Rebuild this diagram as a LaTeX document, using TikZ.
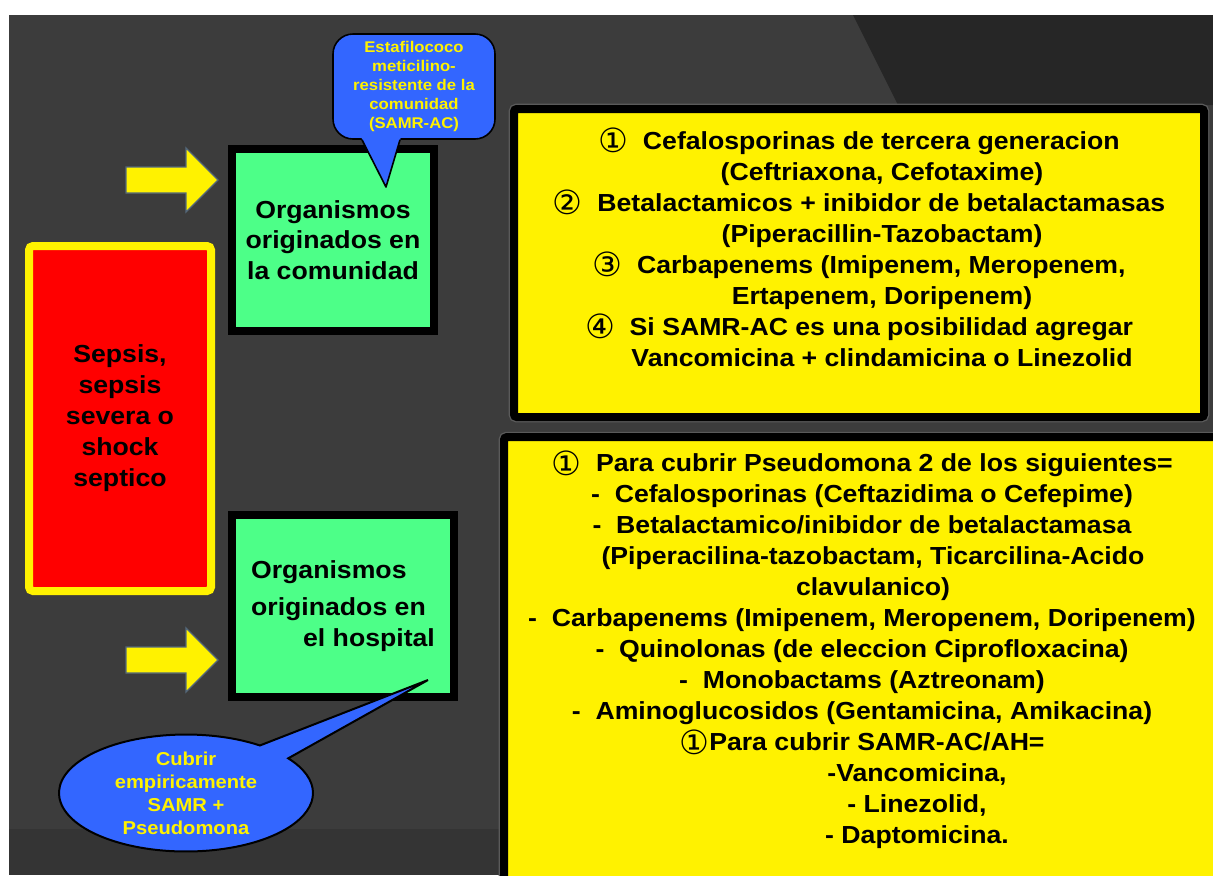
\documentclass[tikz,border=0pt]{standalone}
\usepackage{fontspec}
\setmainfont[FakeStretch=1.08]{Liberation Sans}
\newfontfamily\symfont{DejaVu Sans}
\usepackage{tikz}
\usetikzlibrary{calc, positioning, shapes.callouts}
\definecolor{bgdark}{RGB}{60,60,60}
\definecolor{bgpanel}{RGB}{38,38,38}
\definecolor{bgfoot}{RGB}{52,52,52}
\definecolor{boxgreen}{RGB}{77,255,136}
\definecolor{noteblue}{RGB}{51,102,255}
\definecolor{arrowedge}{RGB}{84,104,122}
\definecolor{halo}{RGB}{90,90,90}
\newcommand{\circnum}[1]{\raisebox{-2.5pt}[0pt][0pt]{\symfont\mdseries\fontsize{25}{23.25}\selectfont #1}}

\begin{document}
\begin{tikzpicture}[x=0.75pt, y=-0.75pt,
    orgbox/.style={draw=black, line width=6pt, fill=boxgreen, inner sep=0pt,
      font={\fontsize{18.5}{22.9}\selectfont\bfseries}},
    listbox/.style={draw=black, line width=6pt, fill=yellow, rounded corners=2pt,
      preaction={draw=halo, line width=8pt}},
    listtext/.style={align=center, inner sep=0pt,
      font={\fontsize{18.5}{23.25}\selectfont\bfseries}},
    notetext/.style={text=yellow, align=center, inner sep=0pt},
    arrowbody/.style={fill=yellow, draw=arrowedge, line width=1pt},
    yarrow/.pic={\draw[arrowbody] (-92,-13) -- (-32,-13) -- (-32,-32) -- (0,0)
      -- (-32,32) -- (-32,13) -- (-92,13) -- cycle;}]
  \useasboundingbox (0,0) rectangle (1213,875);
  \clip (0,0) rectangle (1213,875);
  % Background
  \fill[white] (0,0) rectangle (1213,875);
  \fill[bgdark] (9,15) rectangle (1213,875);
  \fill[bgpanel] (853,15) -- (1213,15) -- (1213,105) -- (898,105) -- cycle;
  \fill[bgfoot] (9,829) rectangle (1213,875);

  % Sepsis
  \node[draw=yellow, line width=6pt, fill=red, rounded corners=3pt, inner sep=0pt,
    minimum width=136.5pt, minimum height=258.75pt, align=center,
    font={\fontsize{18.5}{23.25}\selectfont\bfseries}] (sepsis) at (120,418.5)
    {Sepsis,\\sepsis\\severa o\\shock\\septico};

  % Organisms
  \node[orgbox, minimum width=151.5pt, minimum height=136.5pt, align=center]
    (orgCom) at (333,240) {Organismos\\originados en\\la comunidad};
  \node[orgbox, minimum width=166.5pt, minimum height=136.5pt, align=left]
    (orgHosp) at (343,606) {Organismos\\[5pt]originados en\\\hspace*{39pt}el hospital};
  \pic at ($(orgCom.west)+(-10,-60)$) {yarrow};
  \pic at ($(orgHosp.west)+(-10,54)$) {yarrow};

  % Community list
  \node[listbox, minimum width=517.5pt, minimum height=231pt] (boxCom) at (859,263) {};
  \node[listtext] (listCom) at (859,249) {%
    \circnum{①}~~Cefalosporinas de tercera generacion\\
    \hspace*{34.5pt}(Ceftriaxona, Cefotaxime)\\
    \circnum{②}~~Betalactamicos + inibidor de betalactamasas\\
    \hspace*{34.5pt}(Piperacillin-Tazobactam)\\
    \circnum{③}~~Carbapenems (Imipenem, Meropenem,\\
    \hspace*{34.5pt}Ertapenem, Doripenem)\\
    \circnum{④}~~Si SAMR-AC es una posibilidad agregar\\
    \hspace*{34.5pt}Vancomicina + clindamicina o Linezolid};

  % Hospital list
  \node[listbox, minimum width=544.5pt, minimum height=347pt] (boxHosp) at (867,668.5) {};
  \node[listtext] (listHosp) at (862,651.5) {%
    \circnum{①}~~Para cubrir Pseudomona 2 de los siguientes=\\
    -~~Cefalosporinas (Ceftazidima o Cefepime)\\
    -~~Betalactamico/inibidor de betalactamasa\\
    \hspace*{16.5pt}(Piperacilina-tazobactam, Ticarcilina-Acido\\
    \hspace*{16.5pt}clavulanico)\\
    -~~Carbapenems (Imipenem, Meropenem, Doripenem)\\
    -~~Quinolonas (de eleccion Ciprofloxacina)\\
    -~~Monobactams (Aztreonam)\\
    -~~Aminoglucosidos (Gentamicina, Amikacina)\\
    \circnum{①}Para cubrir SAMR-AC/AH=\\
    \hspace*{82.5pt}-Vancomicina,\\
    \hspace*{82.5pt}- Linezolid,\\
    \hspace*{82.5pt}- Daptomicina.};

  % Notes
  \node[notetext, draw=black, fill=noteblue, line width=1.2pt, rounded corners=15pt,
    minimum width=121.5pt, minimum height=78.75pt,
    font={\fontsize{11.6}{14.25}\selectfont\bfseries}] (samrNote) at (414,86.5)
    {Estafilococo\\meticilino-\\resistente de la\\comunidad\\(SAMR-AC)};
  \coordinate (samrTip) at (386,187);
  \fill[noteblue] ($(samrNote.south)+(-53,-3)$) -- (samrTip) -- ($(samrNote.south)+(-13,-3)$) -- cycle;
  \draw[line width=1.2pt, line join=round] ($(samrNote.south)+(-52,0)$) -- (samrTip)
    -- ($(samrNote.south)+(-14,0)$);

  \coordinate (hospTip) at (428,680);
  \node[notetext, ellipse callout, callout absolute pointer={(hospTip)}, callout pointer arc=18,
    draw=black, fill=noteblue, line width=1.5pt, minimum width=190.5pt, minimum height=87pt,
    font={\fontsize{14}{17.25}\selectfont\bfseries}] (empNote) at (186,793)
    {Cubrir\\empiricamente\\SAMR +\\Pseudomona};
\end{tikzpicture}
\end{document}
